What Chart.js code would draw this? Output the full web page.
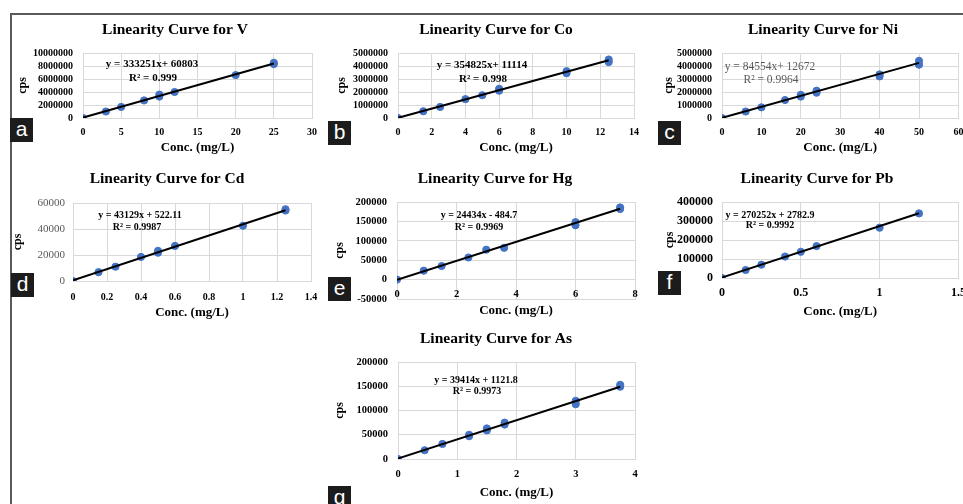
<!DOCTYPE html>
<html><head><meta charset="utf-8">
<script src="https://cdn.jsdelivr.net/npm/chart.js@4.4.1/dist/chart.umd.min.js"></script>
<style>
body{margin:0;width:963px;height:504px;background:#fff;position:relative;overflow:hidden;}
canvas{position:absolute;}
.lab{position:absolute;background:#1c1c1c;color:#fff;font-family:"Liberation Sans",Arial,sans-serif;font-size:21px;line-height:21px;text-align:center;width:23px;height:24px;overflow:hidden;}
.frameTop{position:absolute;left:10px;top:13px;width:953px;height:0;border-top:2px solid #5a5a5a;}
.frameLeft{position:absolute;left:10px;top:13px;width:0;height:491px;border-left:2px solid #5a5a5a;}
</style></head><body>
<div class="frameTop"></div><div class="frameLeft"></div>
<script>
// ---------- data ----------
const vConc  = [0, 3, 5, 8, 10, 10, 12, 20, 25, 25];
const vCps   = [0, 1000000, 1700000, 2700000, 3300000, 3600000, 4000000, 6600000, 8300000, 8500000];
const coConc = [0, 1.5, 2.5, 4, 5, 6, 6, 10, 10, 12.5, 12.5];
const coCps  = [0, 520000, 850000, 1450000, 1750000, 2100000, 2250000, 3450000, 3600000, 4300000, 4500000];
const niConc = [0, 6, 10, 16, 20, 20, 24, 24, 40, 40, 50, 50];
const niCps  = [0, 500000, 820000, 1380000, 1650000, 1780000, 1950000, 2100000, 3200000, 3350000, 4100000, 4400000];
const cdConc = [0, 0.15, 0.25, 0.4, 0.5, 0.5, 0.6, 1, 1.25, 1.25];
const cdCps  = [0, 6800, 11000, 18500, 21800, 23200, 27000, 42500, 54200, 55200];
const hgConc = [0, 0.9, 1.5, 2.4, 3, 3.6, 6, 6, 7.5, 7.5];
const hgCps  = [0, 23000, 35000, 57000, 77000, 82000, 140000, 148000, 182000, 186000];
const pbConc = [0, 0.15, 0.25, 0.4, 0.5, 0.6, 1, 1.25];
const pbCps  = [0, 42000, 70000, 113000, 138000, 168000, 265000, 340000];
const asConc = [0, 0.45, 0.75, 1.2, 1.2, 1.5, 1.5, 1.8, 1.8, 3, 3, 3.75, 3.75];
const asCps  = [0, 18000, 31000, 47000, 50000, 59000, 63000, 71000, 75000, 113000, 120000, 149000, 153000];

const panelLetters = ['a', 'b', 'c', 'd', 'e', 'f', 'g'];
const titles = ['Linearity Curve for V', 'Linearity Curve for Co', 'Linearity Curve for Ni',
  'Linearity Curve for Cd', 'Linearity Curve for Hg', 'Linearity Curve for Pb', 'Linearity Curve for As'];
const equations = [
  ['y = 333251x+ 60803', 'R² = 0.999'],
  ['y = 354825x+ 11114', 'R² = 0.998'],
  ['y = 84554x+ 12672', 'R² = 0.9964'],
  ['y = 43129x + 522.11', 'R² = 0.9987'],
  ['y = 24434x - 484.7', 'R² = 0.9969'],
  ['y = 270252x + 2782.9', 'R² = 0.9992'],
  ['y = 39414x + 1121.8', 'R² = 0.9973']];
const slopes = [333251, 354825, 84554, 43129, 24434, 270252, 39414];
const intercepts = [60803, 11114, 12672, 522.11, -484.7, 2782.9, 1121.8];
const xRanges = [[0, 30, 5], [0, 14, 2], [0, 60, 10], [0, 1.4, 0.2], [0, 8, 2], [0, 1.5, 0.5], [0, 4, 1]];
const yRanges = [[0, 10000000, 2000000], [0, 5000000, 1000000], [0, 5000000, 1000000],
  [0, 60000, 20000], [-50000, 200000, 50000], [0, 400000, 100000], [0, 200000, 50000]];
const xTitle = 'Conc. (mg/L)';
const yTitle = 'cps';
const concs = [vConc, coConc, niConc, cdConc, hgConc, pbConc, asConc];
const cpss = [vCps, coCps, niCps, cdCps, hgCps, pbCps, asCps];

// ---------- layout (page pixels) ----------
const geo = [
  {cx:16, cy:16, cw:314, ch:139, L:83, T:53, R:312, B:118, tx:175, ty:30, xPad:8, yPad:10, eq:[[152,64],[153,78]], eqSize:11, tick:10, lab:[10,118]},
  {cx:335,cy:16, cw:317, ch:139, L:398,T:53, R:634, B:118, tx:496, ty:30, xPad:8, yPad:10, eq:[[482,65],[483,79]], eqSize:11, tick:10, lab:[328,121]},
  {cx:662,cy:16, cw:301, ch:139, L:722,T:53, R:961, B:118, tx:823, ty:30, xPad:8, yPad:10, eq:[[770,67],[771,80]], eqSize:11.5, tick:10, lab:[658,121], eqGray:true},
  {cx:11, cy:165,cw:319, ch:155, L:73, T:203,R:311, B:281, tx:167, ty:179, xPad:10, yPad:8, eq:[[140,215],[137,227]], eqSize:10, tick:10, lab:[11,273], yGray:true},
  {cx:333,cy:165,cw:320, ch:153, L:397,T:202,R:635, B:299, tx:495, ty:179, xPad:8, yPad:10, eq:[[479,215],[479,227]], eqSize:10, tick:10.5, lab:[328,277], xAtZero:true},
  {cx:663,cy:165,cw:300, ch:154, L:722,T:202,R:959, B:278, tx:817, ty:179, xPad:8, yPad:9, eq:[[770,215],[770,225]], eqSize:10, tick:12, lab:[658,271]},
  {cx:333,cy:325,cw:320, ch:175, L:398,T:362,R:635, B:459, tx:496, ty:339, xPad:9, yPad:10, eq:[[476,380],[477,391]], eqSize:10, tick:10.5, lab:[328,486]}
];

const SERIF = '"Liberation Serif", "Times New Roman", serif';
const fmt = v => String(Number(v.toFixed(3)));

const decoPlugin = {
  id: 'deco',
  afterDraw(chart, args, o) {
    const ctx = chart.ctx;
    ctx.save();
    ctx.textAlign = 'center';
    ctx.textBaseline = 'middle';
    ctx.fillStyle = '#000';
    ctx.font = 'bold 15.5px ' + SERIF;
    ctx.fillText(o.title, o.tx, o.ty);
    ctx.fillStyle = o.eqGray ? '#595959' : '#000';
    ctx.font = (o.eqGray ? '' : 'bold ') + o.eqSize + 'px ' + SERIF;
    o.eq.forEach((p, i) => ctx.fillText(o.lines[i], p[0], p[1]));
    ctx.restore();
  }
};

geo.forEach((g, i) => {
  const cv = document.createElement('canvas');
  cv.width = g.cw; cv.height = g.ch;
  cv.style.left = g.cx + 'px'; cv.style.top = g.cy + 'px';
  document.body.appendChild(cv);

  const lab = document.createElement('div');
  lab.className = 'lab';
  lab.style.left = g.lab[0] + 'px'; lab.style.top = g.lab[1] + 'px';
  lab.textContent = panelLetters[i];

  const pts = concs[i].map((x, k) => ({x: x, y: cpss[i][k]}));
  const xEnd = Math.max(...concs[i]);
  const trend = [{x: 0, y: intercepts[i]}, {x: xEnd, y: slopes[i] * xEnd + intercepts[i]}];

  const xr = xRanges[i], yr = yRanges[i];
  const tickFont = {family: SERIF, size: g.tick, weight: 'bold'};
  const scales = {
    x: {type: 'linear', min: xr[0], max: xr[1],
      ticks: {display: !g.xAtZero, stepSize: xr[2], autoSkip: false, color: '#000', font: tickFont, padding: g.xPad, maxRotation: 0, callback: v => fmt(v)},
      grid: {color: '#d9d9d9', drawTicks: false},
      border: {display: true, color: '#d9d9d9'},
      title: {display: true, text: xTitle, color: '#000', padding: 0, font: {family: SERIF, size: 13, weight: 'bold'}},
      afterFit: s => { s.height = g.cy + g.ch - g.B; s.paddingLeft = 0; s.paddingRight = 0; }
    },
    y: {type: 'linear', min: yr[0], max: yr[1],
      ticks: {stepSize: yr[2], autoSkip: false, color: g.yGray ? '#595959' : '#000',
        font: g.yGray ? {family: SERIF, size: 11, weight: 'normal'} : tickFont,
        padding: g.yPad, callback: v => fmt(v)},
      grid: {color: '#d9d9d9', drawTicks: false},
      border: {display: true, color: '#d9d9d9'},
      title: {display: true, text: yTitle, color: '#000', padding: 0, font: {family: SERIF, size: 12, weight: 'bold'}},
      afterFit: s => { s.width = g.L - g.cx; s.paddingTop = 0; s.paddingBottom = 0; }
    }
  };
  if (g.xAtZero) {
    scales.x0 = {type: 'linear', axis: 'x', position: {y: 0}, min: xr[0], max: xr[1],
      ticks: {stepSize: xr[2], autoSkip: false, color: '#000', font: tickFont, padding: g.xPad, maxRotation: 0, callback: v => fmt(v)},
      grid: {display: false, drawTicks: false},
      border: {display: false},
      title: {display: false}
    };
  }
  new Chart(cv, {
    type: 'scatter',
    data: {datasets: [
      {type: 'line', data: trend, borderColor: '#000', borderWidth: 2, pointRadius: 0, fill: false, tension: 0},
      {data: pts, backgroundColor: '#4472C4', borderColor: '#4472C4', pointRadius: 3.6, pointHoverRadius: 3.6}
    ]},
    options: {
      responsive: false, animation: false, devicePixelRatio: 1,
      layout: {padding: {left: 0, top: g.T - g.cy, right: g.cw - (g.R - g.cx), bottom: 0}},
      plugins: {legend: {display: false}, tooltip: {enabled: false}, title: {display: false},
        deco: {title: titles[i], lines: equations[i], tx: g.tx - g.cx, ty: g.ty - g.cy,
          eq: g.eq.map(p => [p[0] - g.cx, p[1] - g.cy]), eqSize: g.eqSize, eqGray: !!g.eqGray}},
      scales: scales
    },
    plugins: [decoPlugin]
  });
  document.body.appendChild(lab);
});
</script>
</body></html>
